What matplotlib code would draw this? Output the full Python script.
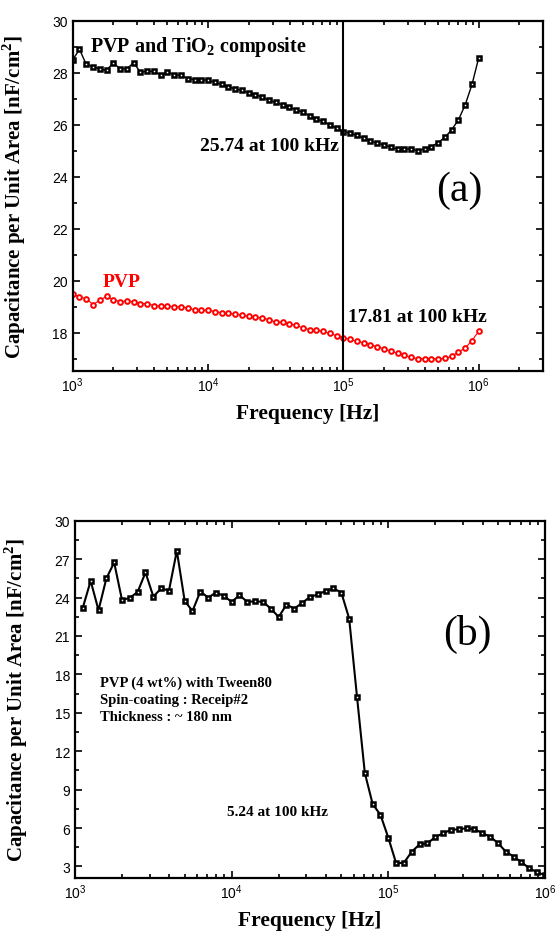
import numpy as np
import matplotlib.pyplot as plt
from matplotlib.ticker import LogLocator, MultipleLocator, NullFormatter

plt.rcParams['font.family'] = 'Liberation Sans'
plt.rcParams['mathtext.fontset'] = 'custom'
plt.rcParams['mathtext.rm'] = 'Liberation Serif:bold'
plt.rcParams['mathtext.bf'] = 'Liberation Serif:bold'

# measurement frequencies (Hz), 20 points per decade
freq = [1000, 1122, 1259, 1413, 1585, 1778, 1995, 2239, 2512, 2818,
        3162, 3548, 3981, 4467, 5012, 5623, 6310, 7079, 7943, 8913,
        10000, 11220, 12589, 14125, 15849, 17783, 19953, 22387, 25119, 28184,
        31623, 35481, 39811, 44668, 50119, 56234, 63096, 70795, 79433, 89125,
        100000, 112202, 125893, 141254, 158489, 177828, 199526, 223872, 251189, 281838,
        316228, 354813, 398107, 446684, 501187, 562341, 630957, 707946, 794328, 891251,
        1000000]

# (a) PVP + TiO2 composite and PVP, nF/cm^2
cap_composite = [28.50, 28.90, 28.32, 28.23, 28.15, 28.09, 28.39, 28.15, 28.15, 28.39,
                 28.02, 28.06, 28.06, 27.92, 28.02, 27.93, 27.90, 27.78, 27.74, 27.74,
                 27.71, 27.64, 27.55, 27.46, 27.38, 27.32, 27.23, 27.15, 27.07, 26.94,
                 26.86, 26.77, 26.68, 26.58, 26.48, 26.35, 26.22, 26.13, 26.00, 25.87,
                 25.74, 25.68, 25.59, 25.49, 25.38, 25.29, 25.23, 25.14, 25.07, 25.06,
                 25.08, 24.99, 25.08, 25.16, 25.32, 25.52, 25.81, 26.19, 26.77, 27.55,
                 28.58]
cap_pvp = [19.51, 19.38, 19.32, 19.09, 19.26, 19.41, 19.28, 19.20, 19.23, 19.20,
           19.13, 19.13, 19.05, 19.04, 19.03, 19.01, 19.00, 18.97, 18.89, 18.87,
           18.88, 18.82, 18.78, 18.75, 18.73, 18.68, 18.64, 18.60, 18.58, 18.51,
           18.42, 18.42, 18.36, 18.29, 18.20, 18.13, 18.10, 18.06, 17.98, 17.90,
           17.81, 17.75, 17.68, 17.62, 17.55, 17.47, 17.39, 17.31, 17.22, 17.14,
           17.06, 17.01, 17.01, 17.01, 17.01, 17.02, 17.10, 17.27, 17.42, 17.71,
           18.07]

# (b) PVP (4 wt%) with Tween80, starts at the second frequency
freq_b = freq[1:]
cap_tween = [23.22, 25.30, 23.01, 25.49, 26.74, 23.81, 23.97, 24.44, 25.96, 24.08,
             24.71, 24.55, 27.65, 23.74, 22.95, 24.47, 24.00, 24.39, 24.13, 23.66,
             24.18, 23.66, 23.71, 23.66, 23.14, 22.48, 23.45, 23.14, 23.58, 24.05,
             24.24, 24.52, 24.71, 24.39, 22.36, 16.25, 10.30, 7.87, 7.03, 5.24,
             3.25, 3.30, 4.16, 4.73, 4.82, 5.29, 5.60, 5.86, 5.91, 5.99,
             5.91, 5.60, 5.33, 4.82, 4.16, 3.77, 3.33, 2.86, 2.54, 2.33]

serif = 'Liberation Serif'
ylab = 'Capacitance per Unit Area [nF/cm$^{\\mathbf{2}}$]'


def style_axis(ax):
    ax.set_xscale('log')
    ax.xaxis.set_major_locator(LogLocator(base=10, numticks=10))
    ax.xaxis.set_minor_locator(LogLocator(base=10, subs=np.arange(2, 10), numticks=20))
    ax.xaxis.set_minor_formatter(NullFormatter())
    ax.tick_params(which='both', direction='in', top=True, right=True, width=1.2)
    ax.tick_params(which='major', length=5, labelsize=10)
    ax.tick_params(which='minor', length=3)
    for s in ax.spines.values():
        s.set_linewidth(1.6)
    ax.set_xlabel('Frequency [Hz]', fontfamily=serif, fontweight='bold', fontsize=15.5,
                  labelpad=6)
    ax.set_ylabel(ylab, fontfamily=serif, fontweight='bold', fontsize=15)
    ax.yaxis.set_label_coords(-0.095, 0.5)


fig = plt.figure(figsize=(5.56, 9.37), dpi=100)

# ---- panel (a)
ax1 = fig.add_axes([0.1308, 0.6033, 0.8464, 0.3735])
ax1.plot(freq, cap_composite, color='black', lw=1.0, marker='s', ms=3.0,
         mfc='white', mec='black', mew=1.8)
ax1.plot(freq, cap_pvp, color='red', lw=0.8, marker='o', ms=3.4,
         mfc='white', mec='red', mew=1.4)
ax1.axvline(1e5, color='black', lw=1.5)
ax1.set_xlim(1e3, 3e6)
ax1.set_ylim(16.55, 30)
ax1.yaxis.set_major_locator(MultipleLocator(2))
ax1.yaxis.set_minor_locator(MultipleLocator(1))
style_axis(ax1)

ax1.text(1.35e3, 28.85, 'PVP and TiO$_{\\mathbf{2}}$ composite', fontfamily=serif,
         fontweight='bold', fontsize=14.5)
ax1.text(9.2e4, 25.2, '25.74 at 100 kHz', fontfamily=serif, fontweight='bold',
         fontsize=14, ha='right', va='center')
ax1.text(7.2e5, 23.5, '(a)', fontfamily=serif, fontsize=30, ha='center', va='center')
ax1.text(1.65e3, 19.65, 'PVP', fontfamily=serif, fontweight='bold', fontsize=14,
         color='red', va='bottom')
ax1.text(1.08e5, 18.3, '17.81 at 100 kHz', fontfamily=serif, fontweight='bold',
         fontsize=14, va='bottom')

# ---- panel (b)
ax2 = fig.add_axes([0.1349, 0.0619, 0.8453, 0.3813])
ax2.plot(freq_b, cap_tween, color='black', lw=1.5, marker='s', ms=3.0,
         mfc='white', mec='black', mew=1.8)
ax2.set_xlim(1e3, 1e6)
ax2.set_ylim(2.1, 30)
ax2.yaxis.set_major_locator(MultipleLocator(3))
ax2.yaxis.set_minor_locator(MultipleLocator(1.5))
style_axis(ax2)

ax2.text(3.2e5, 21.2, '(b)', fontfamily=serif, fontsize=30, ha='center', va='center')
ax2.text(1.45e3, 17.9, 'PVP (4 wt%) with Tween80\nSpin-coating : Receip#2\nThickness : ~ 180 nm',
         fontfamily=serif, fontweight='bold', fontsize=10.5, va='top', linespacing=1.4)
ax2.text(9.3e3, 7.3, '5.24 at 100 kHz', fontfamily=serif, fontweight='bold',
         fontsize=11, va='center')

fig.savefig('out.png', dpi=100)
